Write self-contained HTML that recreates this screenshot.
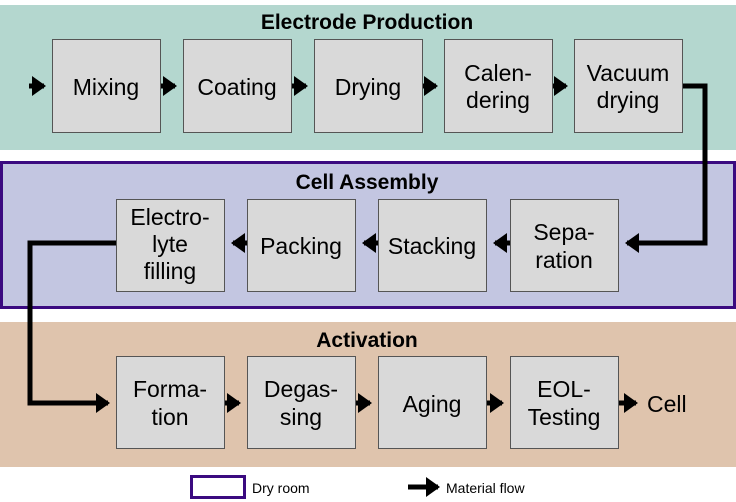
<!DOCTYPE html>
<html><head><meta charset="utf-8"><style>
html,body{margin:0;padding:0;background:#fff;}
svg{display:block;}
text{font-family:"Liberation Sans",Arial,sans-serif;fill:#000;}
.b{fill:#d9d9d9;stroke:#555;stroke-width:1;}
.t{font-size:23px;text-anchor:middle;}
.h{font-size:21px;font-weight:bold;text-anchor:middle;}
.l{stroke:#000;stroke-width:5;fill:none;}
</style></head><body>
<svg width="736" height="502" viewBox="0 0 736 502" xmlns="http://www.w3.org/2000/svg">
<defs>
<marker id="a" markerWidth="4" markerHeight="4" refX="2.4" refY="2" orient="auto" markerUnits="strokeWidth">
<path d="M0,0 L2.8,2 L0,4 z" fill="#000"/></marker>
</defs>
<rect x="0" y="5" width="736" height="145" fill="#b4d7cf"/>
<rect x="1.5" y="162.5" width="733" height="145" fill="#c3c6e1" stroke="#3b0a80" stroke-width="3"/>
<rect x="0" y="322" width="736" height="145" fill="#dfc4ad"/>
<text class="h" x="367" y="29">Electrode Production</text>
<text class="h" x="367" y="189">Cell Assembly</text>
<text class="h" x="367" y="347">Activation</text>

<g class="b">
<rect x="52.5" y="39.5" width="108" height="93"/>
<rect x="183.5" y="39.5" width="108" height="93"/>
<rect x="314.5" y="39.5" width="108" height="93"/>
<rect x="444.5" y="39.5" width="108" height="93"/>
<rect x="574.5" y="39.5" width="108" height="93"/>
<rect x="116.5" y="199.5" width="108" height="92"/>
<rect x="247.5" y="199.5" width="108" height="92"/>
<rect x="378.5" y="199.5" width="108" height="92"/>
<rect x="510.5" y="199.5" width="108" height="92"/>
<rect x="116.5" y="356.5" width="108" height="92"/>
<rect x="247.5" y="356.5" width="108" height="92"/>
<rect x="378.5" y="356.5" width="108" height="92"/>
<rect x="510.5" y="356.5" width="108" height="92"/>
</g>

<text class="t" x="106" y="95">Mixing</text>
<text class="t" x="237" y="95">Coating</text>
<text class="t" x="368" y="95">Drying</text>
<text class="t" x="498" y="81">Calen-</text>
<text class="t" x="498" y="108">dering</text>
<text class="t" x="628" y="81">Vacuum</text>
<text class="t" x="628" y="108">drying</text>

<text class="t" x="170" y="225">Electro-</text>
<text class="t" x="170" y="252">lyte</text>
<text class="t" x="170" y="279">filling</text>
<text class="t" x="301" y="254">Packing</text>
<text class="t" x="432" y="254">Stacking</text>
<text class="t" x="564" y="240">Sepa-</text>
<text class="t" x="564" y="268">ration</text>

<text class="t" x="170" y="397">Forma-</text>
<text class="t" x="170" y="425">tion</text>
<text class="t" x="301" y="397">Degas-</text>
<text class="t" x="301" y="425">sing</text>
<text class="t" x="432" y="412">Aging</text>
<text class="t" x="564" y="397">EOL-</text>
<text class="t" x="564" y="425">Testing</text>
<text x="647" y="412" style="font-size:23px">Cell</text>

<g class="l">
<path d="M29,86 H44" marker-end="url(#a)"/>
<path d="M161,86 H175" marker-end="url(#a)"/>
<path d="M292,86 H306" marker-end="url(#a)"/>
<path d="M423,86 H436" marker-end="url(#a)"/>
<path d="M553,86 H566" marker-end="url(#a)"/>
<path d="M683,86 H705 V243 H627" marker-end="url(#a)"/>
<path d="M510,243 H495" marker-end="url(#a)"/>
<path d="M378,243 H364" marker-end="url(#a)"/>
<path d="M247,243 H233" marker-end="url(#a)"/>
<path d="M116,243 H30 V403 H108" marker-end="url(#a)"/>
<path d="M225,403 H239" marker-end="url(#a)"/>
<path d="M356,403 H370" marker-end="url(#a)"/>
<path d="M487,403 H502" marker-end="url(#a)"/>
<path d="M619,403 H636" marker-end="url(#a)"/>
<path d="M408,487 H438" marker-end="url(#a)"/>
</g>

<rect x="191.5" y="476.5" width="53" height="21" fill="#fff" stroke="#3b0a80" stroke-width="3"/>
<text x="252" y="493" style="font-size:14px">Dry room</text>
<text x="446" y="493" style="font-size:14px">Material flow</text>
</svg>
</body></html>
